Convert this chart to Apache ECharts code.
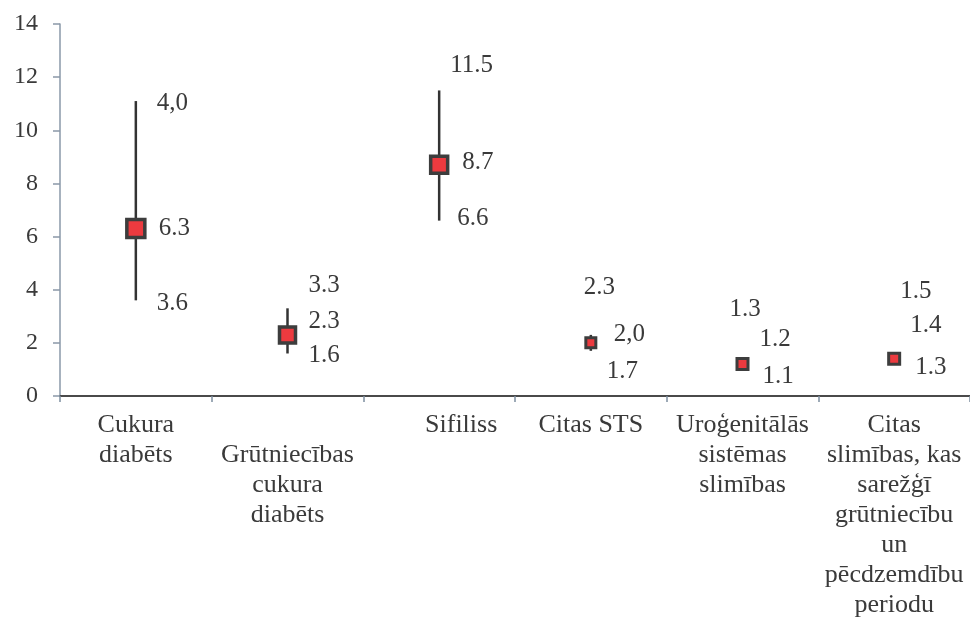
<!DOCTYPE html>
<html>
<head>
<meta charset="utf-8">
<script src="https://cdn.jsdelivr.net/npm/echarts@6/dist/echarts.min.js"></script>
<style>
  html, body { margin: 0; padding: 0; background: #fff; }
  #chart { width: 970px; height: 622px; }
</style>
</head>
<body>
<div id="chart"></div>
<script>
// Categories (x axis)
const categories = [
  'Cukura\ndiabēts',
  '\nGrūtniecības\ncukura\ndiabēts',
  'Sifiliss',
  'Citas STS',
  'Uroģenitālās\nsistēmas\nslimības',
  'Citas\nslimības, kas\nsarežģī\ngrūtniecību\nun\npēcdzemdību\nperiodu'
];

// Point estimate and interval bounds
const midValues   = [6.3, 2.3, 8.7, 2.0, 1.2, 1.4];
const lowValues   = [3.6, 1.6, 6.6, 1.7, 1.1, 1.3];
const highValues  = [11.1, 3.3, 11.5, 2.3, 1.3, 1.5];

// Printed value labels
const highLabels = ['4,0', '3.3', '11.5', '2.3', '1.3', '1.5'];
const midLabels  = ['6.3', '2.3', '8.7', '2,0', '1.2', '1.4'];
const lowLabels  = ['3.6', '1.6', '6.6', '1.7', '1.1', '1.3'];

// Y axis ticks
const yMin = 0, yMax = 14, yStep = 2;

// Label placement relative to the anchor value, [dx, dy] in px
const highOffsets = [[21, 2], [21, -23], [11, -25], [-7, -47], [-13, -52], [6, -65]];
const midOffsets  = [[23, 0], [21, -13], [23, -2], [23, -8], [17, -25], [16, -33]];
const lowOffsets  = [[21, 3], [21, 2], [18, -2], [16, 21], [20, 10], [21, 6]];
const markerSizes = [18, 16, 17, 10, 11, 11];

const serif = 'Liberation Serif';
const textColor = '#3a3a3a';

const seriesData = categories.map((c, i) => [i, lowValues[i], midValues[i], highValues[i]]);

const chart = echarts.init(document.getElementById('chart'));

chart.setOption({
  animation: false,
  backgroundColor: '#ffffff',
  textStyle: { fontFamily: serif },
  grid: { left: 60, top: 24, width: 918, height: 372, containLabel: false },
  xAxis: {
    type: 'category',
    data: categories,
    boundaryGap: true,
    axisLine: { show: true, lineStyle: { color: '#4a4a4a', width: 2 } },
    axisTick: { show: true, alignWithLabel: false, length: 6, lineStyle: { color: '#7d8ea0', width: 1.5 } },
    splitLine: { show: false },
    axisLabel: {
      interval: 0,
      margin: 14,
      color: textColor,
      fontFamily: serif,
      fontSize: 26,
      lineHeight: 30,
      align: 'center',
      verticalAlign: 'top',
      formatter: function (value) {
        if (value === 'Sifiliss') return '{shift|' + value + '}';
        return value;
      },
      rich: {
        shift: {
          fontFamily: serif,
          fontSize: 26,
          lineHeight: 30,
          color: textColor,
          padding: [0, 0, 0, 44]
        }
      }
    }
  },
  yAxis: {
    type: 'value',
    min: yMin,
    max: yMax,
    interval: yStep,
    axisLine: { show: true, lineStyle: { color: '#8a98a8', width: 1.5 } },
    axisTick: { show: true, inside: false, length: 7, lineStyle: { color: '#8a98a8', width: 1.5 } },
    splitLine: { show: false },
    axisLabel: {
      margin: 22,
      color: textColor,
      fontFamily: serif,
      fontSize: 24
    }
  },
  series: [{
    type: 'custom',
    data: seriesData,
    encode: { x: 0, y: [1, 2, 3] },
    clip: false,
    renderItem: function (params, api) {
      const i = api.value(0);
      const pLow = api.coord([i, api.value(1)]);
      const pMid = api.coord([i, api.value(2)]);
      const pHigh = api.coord([i, api.value(3)]);
      const cx = pMid[0];
      const s = markerSizes[i];
      const lw = s >= 15 ? 3.5 : 3;
      const valueText = (txt, p, off) => ({
        type: 'text',
        style: {
          text: txt,
          x: cx + off[0],
          y: p[1] + off[1],
          fill: textColor,
          font: '25px "Liberation Serif"',
          align: 'left',
          verticalAlign: 'middle'
        }
      });
      return {
        type: 'group',
        children: [
          {
            type: 'line',
            shape: { x1: cx, y1: pLow[1], x2: cx, y2: pHigh[1] },
            style: { stroke: '#333333', lineWidth: 2.5 }
          },
          {
            type: 'rect',
            shape: { x: cx - s / 2, y: pMid[1] - s / 2, width: s, height: s },
            style: { fill: '#ec3a3f', stroke: '#3d3d3d', lineWidth: lw }
          },
          valueText(highLabels[i], pHigh, highOffsets[i]),
          valueText(midLabels[i], pMid, midOffsets[i]),
          valueText(lowLabels[i], pLow, lowOffsets[i])
        ]
      };
    }
  }]
});
</script>
</body>
</html>
